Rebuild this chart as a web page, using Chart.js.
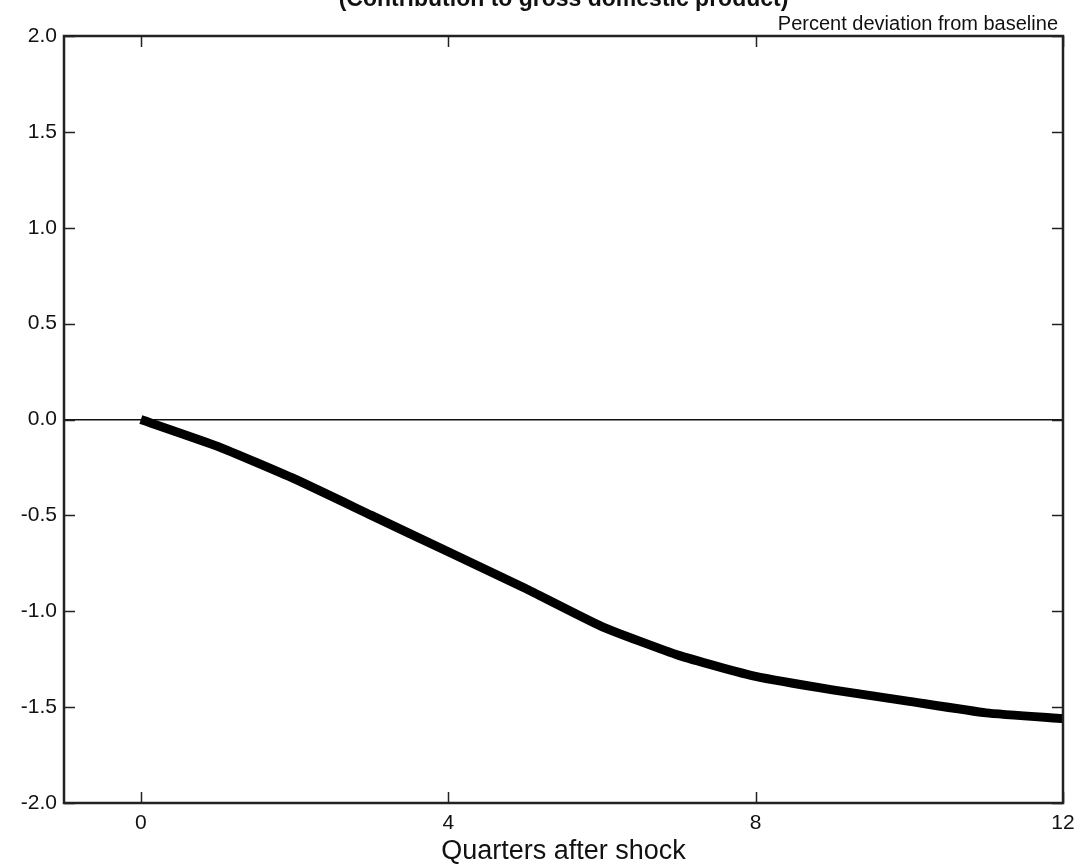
<!DOCTYPE html>
<html>
<head>
<meta charset="utf-8">
<script src="https://cdn.jsdelivr.net/npm/chart.js@4"></script>
<style>
  html, body { margin: 0; padding: 0; background: #fff; }
  #wrap { position: relative; width: 1079px; height: 866px; }
</style>
</head>
<body>
<div id="wrap"><canvas id="grafico" width="1079" height="866"></canvas></div>
<script>
// Datos
const quarters = [0, 1, 2, 3, 4, 5, 6, 7, 8, 9, 10, 11, 12];
const deviation = [0, -0.14, -0.31, -0.50, -0.69, -0.88, -1.08, -1.23, -1.34, -1.41, -1.47, -1.53, -1.56];
const xTickValues = [0, 4, 8, 12];
const yTickValues = [-2, -1.5, -1, -0.5, 0, 0.5, 1, 1.5, 2];

const chartTitle = '(Contribution to gross domestic product)';
const unitLabel = 'Percent deviation from baseline';
const xAxisLabel = 'Quarters after shock';

const FONT = '"Liberation Sans", Arial, sans-serif';

// Marco, marcas hacia dentro y textos
const framePlugin = {
    id: 'frame',
    afterDraw(chart) {
        const { ctx, chartArea: a, scales } = chart;
        const len = 11;
        ctx.save();
        ctx.strokeStyle = '#222';
        ctx.lineWidth = 1.5;
        ctx.beginPath();
        yTickValues.forEach(v => {
            const y = Math.round(scales.y.getPixelForValue(v)) + 0.5;
            ctx.moveTo(a.left, y); ctx.lineTo(a.left + len, y);
            ctx.moveTo(a.right, y); ctx.lineTo(a.right - len, y);
        });
        xTickValues.forEach(v => {
            const x = Math.round(scales.x.getPixelForValue(v)) + 0.5;
            ctx.moveTo(x, a.top); ctx.lineTo(x, a.top + len);
            ctx.moveTo(x, a.bottom); ctx.lineTo(x, a.bottom - len);
        });
        ctx.stroke();

        ctx.lineWidth = 2.5;
        ctx.strokeRect(a.left, a.top, a.right - a.left, a.bottom - a.top);

        ctx.fillStyle = '#111';
        ctx.textBaseline = 'alphabetic';
        ctx.textAlign = 'center';
        ctx.font = 'bold 23px ' + FONT;
        ctx.fillText(chartTitle, (a.left + a.right) / 2, 6);

        ctx.textAlign = 'right';
        ctx.font = '20px ' + FONT;
        ctx.fillText(unitLabel, a.right - 5, 30);

        ctx.textAlign = 'center';
        ctx.textBaseline = 'middle';
        ctx.font = '27px ' + FONT;
        ctx.fillText(xAxisLabel, (a.left + a.right) / 2, 852);
        ctx.restore();
    }
};

const ctx = document.getElementById('grafico');
new Chart(ctx, {
    type: 'line',
    data: {
        datasets: [{
            data: quarters.map((q, i) => ({ x: q, y: deviation[i] })),
            borderColor: '#000',
            borderWidth: 9,
            borderCapStyle: 'butt',
            borderJoinStyle: 'round',
            pointRadius: 0,
            tension: 0.15,
            fill: false
        }]
    },
    options: {
        responsive: false,
        animation: false,
        devicePixelRatio: 1,
        layout: { padding: { top: 36, right: 16, left: 0, bottom: 0 } },
        plugins: {
            legend: { display: false },
            tooltip: { enabled: false }
        },
        scales: {
            x: {
                type: 'linear',
                min: -1,
                max: 12,
                afterBuildTicks: scale => { scale.ticks = xTickValues.map(v => ({ value: v })); },
                afterFit: scale => {
                    scale.height = 63;
                    scale.paddingLeft = 0;
                    scale.paddingRight = 0;
                },
                grid: { display: false, drawTicks: false },
                border: { display: false },
                ticks: {
                    padding: 8,
                    color: '#111',
                    font: { family: FONT, size: 21 },
                    maxRotation: 0,
                    callback: v => String(v)
                }
            },
            y: {
                min: -2,
                max: 2,
                afterBuildTicks: scale => { scale.ticks = yTickValues.map(v => ({ value: v })); },
                afterFit: scale => {
                    scale.width = 64;
                    scale.paddingTop = 0;
                    scale.paddingBottom = 0;
                },
                grid: {
                    drawTicks: false,
                    lineWidth: 1.5,
                    color: c => (c.tick && c.tick.value === 0 ? '#111' : 'rgba(0,0,0,0)')
                },
                border: { display: false },
                ticks: {
                    padding: 7,
                    color: '#111',
                    font: { family: FONT, size: 21 },
                    callback: v => Number(v).toFixed(1)
                }
            }
        }
    },
    plugins: [framePlugin]
});
</script>
</body>
</html>
